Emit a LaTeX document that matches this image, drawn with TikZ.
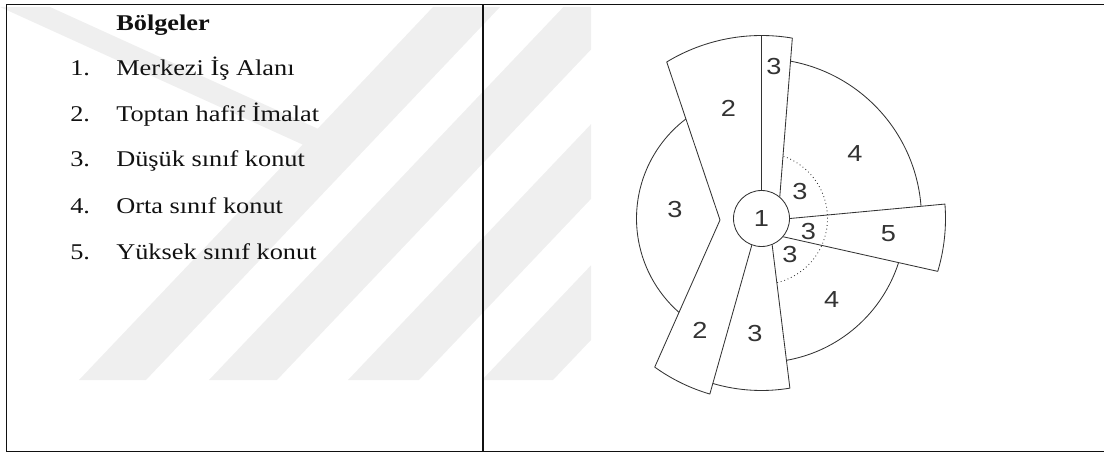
\documentclass[tikz,border=0pt]{standalone}
\usepackage{fontspec}
\setmainfont{Liberation Serif}
\newfontfamily\digitsans{Liberation Sans}
\usepackage{graphicx}
\usepackage{tikz}
\usetikzlibrary{calc}
\definecolor{ink}{HTML}{111111}
\definecolor{zoneink}{HTML}{333333}
\definecolor{wm}{HTML}{EFEFEF}
\newcommand{\widen}[1]{\scalebox{1.17}[1]{#1}}

\begin{document}
\begin{tikzpicture}[x=0.025cm,y=0.025cm,
  item/.style={anchor=base west,inner sep=0pt,font=\fontsize{16}{19}\selectfont,text=ink},
  zone/.style={draw=zoneink,line width=0.6pt,line join=round},
  zonelbl/.style={inner sep=0pt,font=\digitsans\fontsize{16.5}{19}\selectfont,text=zoneink}]
\useasboundingbox (0,0) rectangle (1104,455);
% watermark behind the table
\fill[wm] (0,448) -- (50,448) -- (317.7,326.3) -- (433,448) -- (500,448) -- (146,75) -- (79,75) -- (302.7,310.4) -- cycle;
\fill[wm] (209,75) -- (277,75) -- (591,405.5) -- (591,448) -- (563.4,448) -- cycle;
\fill[wm] (348,75) -- (419,75) -- (591,256.1) -- (591,330.8) -- cycle;
\fill[wm] (482,75) -- (553,75) -- (591,115) -- (591,189.7) -- cycle;
% table frame
\draw[ink,line width=0.9pt] (1104,450.5) -- (6.5,450.5) -- (6.5,3.5) -- (1104,3.5);
\draw[ink,line width=0.9pt] (483,450.5) -- (483,3.5);
% left: the legend
\begin{scope}
 \node[item,font=\fontsize{16}{19}\selectfont\bfseries] (title) at (116,424) {\widen{Bölgeler}};
 \foreach \y/\n/\txt in {379/1/Merkezi İş Alanı,333/2/Toptan hafif İmalat,288/3/Düşük sınıf konut,242/4/Orta sınıf konut,196/5/Yüksek sınıf konut}{
  \node[item] (num\n) at (70,\y) {\widen{\n.}};
  \node[item] (zone\n) at (116,\y) {\widen{\txt}};
 }
\end{scope}
% right: the sector model
\begin{scope}
 \node[zone,circle,minimum size=1.4cm,zonelbl] (cbd) at (761.5,236.5) {\widen{1}};
 % sector 2 and the narrow 3 on top
 \draw[zone] (cbd.north) -- ($(cbd)+(90:183)$);
 \draw[zone] ($(cbd)+(121.2:183)$) arc[start angle=121.2,end angle=80.3,radius=183] -- (cbd.50.8);
 \draw[zone] ($(cbd)+(121.2:183)$) -- (720,235) -- ($(cbd)+(234.3:183)$) arc[start angle=234.3,end angle=253.6,radius=183] -- (cbd.250.8);
 % bottom 3
 \draw[zone] ($(cbd)+(253.55:172)$) arc[start angle=253.55,end angle=279.5,radius=172] -- (cbd.-68);
 % left 3, the two 4s
 \draw[zone] ($(cbd)+(127.2:125)$) arc[start angle=127.2,end angle=228.7,radius=125];
 \draw[zone] ($(cbd)+(79.7:160)$) arc[start angle=79.7,end angle=4.4,radius=160];
 \draw[zone] ($(cbd)+(-17.8:144)$) arc[start angle=-17.8,end angle=-79.9,radius=144];
 % sector 5
 \draw[zone] (cbd.0.4) -- ($(cbd)+(4.5:184)$) arc[start angle=4.5,end angle=-16.7,radius=184] -- (cbd.-40);
 % inner ring of 3
 \draw[zone,dotted] ($(cbd)+(70.5:66)$) arc[start angle=70.5,end angle=-76.8,radius=66];
 % zone numbers
 \node[zonelbl] (top3) at (774,388.3) {\widen{3}};
 \node[zonelbl] (up2) at (728.3,346.7) {\widen{2}};
 \node[zonelbl] (up4) at (855,301.7) {\widen{4}};
 \node[zonelbl] (ring3a) at (800,263.3) {\widen{3}};
 \node[zonelbl] (left3) at (675,245) {\widen{3}};
 \node[zonelbl] (ring3b) at (808.3,223.3) {\widen{3}};
 \node[zonelbl] (high5) at (888.3,221.7) {\widen{5}};
 \node[zonelbl] (ring3c) at (790,200) {\widen{3}};
 \node[zonelbl] (low4) at (831.7,155) {\widen{4}};
 \node[zonelbl] (low2) at (700,125) {\widen{2}};
 \node[zonelbl] (bot3) at (755,121.7) {\widen{3}};
\end{scope}
\end{tikzpicture}
\end{document}
